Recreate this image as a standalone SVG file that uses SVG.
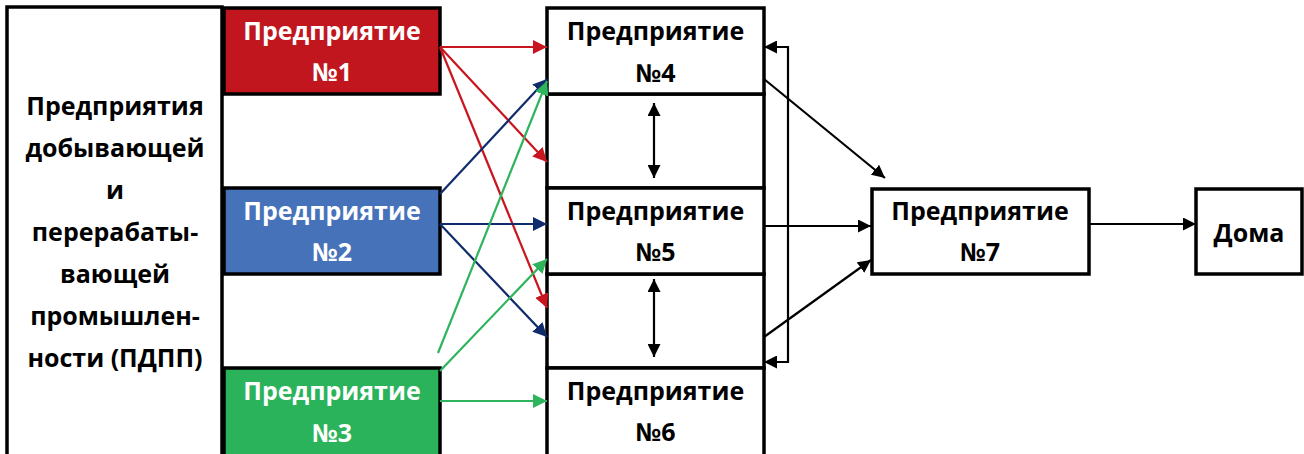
<svg xmlns="http://www.w3.org/2000/svg" width="1304" height="454" viewBox="0 0 1304 454">
<style>
.box{stroke:#000;stroke-width:3.5;}
.t{font-family:"Open Sans","Noto Sans","DejaVu Sans",sans-serif;font-weight:bold;font-size:25px;text-anchor:middle;}
.w{fill:#fff;}
.k{fill:#000;}
.red{stroke:#C8161E;stroke-width:2.2;fill:none;}
.blu{stroke:#102C6C;stroke-width:2.2;fill:none;}
.grn{stroke:#2DB45C;stroke-width:2.2;fill:none;}
.blk{stroke:#000;stroke-width:2.2;fill:none;}
</style>
<defs>
<marker id="ar" viewBox="0 0 14 14" refX="14" refY="7" markerWidth="14" markerHeight="14" markerUnits="userSpaceOnUse" orient="auto"><path d="M0,0 L14,7 L0,14 Z" fill="#C8161E"/></marker>
<marker id="ab" viewBox="0 0 14 14" refX="14" refY="7" markerWidth="14" markerHeight="14" markerUnits="userSpaceOnUse" orient="auto"><path d="M0,0 L14,7 L0,14 Z" fill="#102C6C"/></marker>
<marker id="ag" viewBox="0 0 14 14" refX="14" refY="7" markerWidth="14" markerHeight="14" markerUnits="userSpaceOnUse" orient="auto"><path d="M0,0 L14,7 L0,14 Z" fill="#2DB45C"/></marker>
<marker id="ak" viewBox="0 0 14 14" refX="14" refY="7" markerWidth="13" markerHeight="13" markerUnits="userSpaceOnUse" orient="auto"><path d="M0,0 L14,7 L0,14 Z" fill="#000"/></marker>
<marker id="aks" viewBox="0 0 14 14" refX="14" refY="7" markerWidth="13" markerHeight="13" markerUnits="userSpaceOnUse" orient="auto-start-reverse"><path d="M0,0 L14,7 L0,14 Z" fill="#000"/></marker>
</defs>
<rect width="1304" height="454" fill="#fff"/>

<g id="pdpp">
<rect class="box" x="7" y="7" width="215" height="470" fill="#fff"/>
<text class="t k" x="115" y="115">Предприятия</text>
<text class="t k" x="115" y="157">добывающей</text>
<text class="t k" x="115" y="199">и</text>
<text class="t k" x="115" y="241">перерабаты-</text>
<text class="t k" x="115" y="283">вающей</text>
<text class="t k" x="115" y="325">промышлен-</text>
<text class="t k" x="115" y="367">ности (ПДПП)</text>
</g>

<g id="e1">
<rect class="box" x="224" y="8" width="216" height="86" fill="#C1161E"/>
<text class="t w" x="332" y="40">Предприятие</text>
<text class="t w" x="332" y="81">№1</text>
</g>
<g id="e2">
<rect class="box" x="224" y="188" width="216" height="86" fill="#4672BA"/>
<text class="t w" x="332" y="220">Предприятие</text>
<text class="t w" x="332" y="261">№2</text>
</g>
<g id="e3">
<rect class="box" x="224" y="368" width="216" height="110" fill="#2BB35B"/>
<text class="t w" x="332" y="400">Предприятие</text>
<text class="t w" x="332" y="442">№3</text>
</g>

<g id="gap1"><rect class="box" x="547" y="94" width="217" height="94" fill="#fff"/></g>
<g id="gap2"><rect class="box" x="547" y="274" width="217" height="94" fill="#fff"/></g>
<g id="e4">
<rect class="box" x="547" y="8" width="217" height="86" fill="#fff"/>
<text class="t k" x="655.5" y="40">Предприятие</text>
<text class="t k" x="655.5" y="82">№4</text>
</g>
<g id="e5">
<rect class="box" x="547" y="188" width="217" height="86" fill="#fff"/>
<text class="t k" x="655.5" y="220">Предприятие</text>
<text class="t k" x="655.5" y="261">№5</text>
</g>
<g id="e6">
<rect class="box" x="547" y="368" width="217" height="110" fill="#fff"/>
<text class="t k" x="655.5" y="400">Предприятие</text>
<text class="t k" x="655.5" y="441">№6</text>
</g>
<g id="e7">
<rect class="box" x="872" y="189" width="217" height="85" fill="#fff"/>
<text class="t k" x="980" y="220">Предприятие</text>
<text class="t k" x="980" y="261">№7</text>
</g>
<g id="homes">
<rect class="box" x="1196" y="189" width="106" height="85" fill="#fff"/>
<text class="t k" x="1249" y="242">Дома</text>
</g>

<g id="connectors">
<line class="red" x1="440" y1="47" x2="547" y2="47" marker-end="url(#ar)"/>
<line class="red" x1="440" y1="47" x2="547" y2="162" marker-end="url(#ar)"/>
<line class="red" x1="440" y1="47" x2="547" y2="308" marker-end="url(#ar)"/>
<line class="blu" x1="440" y1="194" x2="547" y2="79" marker-end="url(#ab)"/>
<line class="blu" x1="440" y1="224" x2="547" y2="224" marker-end="url(#ab)"/>
<line class="blu" x1="440" y1="224" x2="547" y2="337" marker-end="url(#ab)"/>
<line class="grn" x1="438" y1="353" x2="547" y2="81" marker-end="url(#ag)"/>
<line class="grn" x1="440" y1="371" x2="547" y2="259" marker-end="url(#ag)"/>
<line class="grn" x1="440" y1="401" x2="547" y2="401" marker-end="url(#ag)"/>
<line class="blk" x1="654" y1="103" x2="654" y2="178" marker-start="url(#aks)" marker-end="url(#aks)"/>
<line class="blk" x1="654" y1="279" x2="654" y2="357" marker-start="url(#aks)" marker-end="url(#aks)"/>
<path class="blk" d="M764,47 L788,47 L788,362 L764,362" marker-start="url(#aks)" marker-end="url(#aks)"/>
<line class="blk" x1="764" y1="79" x2="885" y2="178" marker-end="url(#ak)"/>
<line class="blk" x1="764" y1="226" x2="871" y2="226" marker-end="url(#ak)"/>
<line class="blk" x1="764" y1="337" x2="871" y2="260" marker-end="url(#ak)"/>
<line class="blk" x1="1089" y1="224" x2="1196" y2="224" marker-end="url(#ak)"/>
</g>
</svg>
